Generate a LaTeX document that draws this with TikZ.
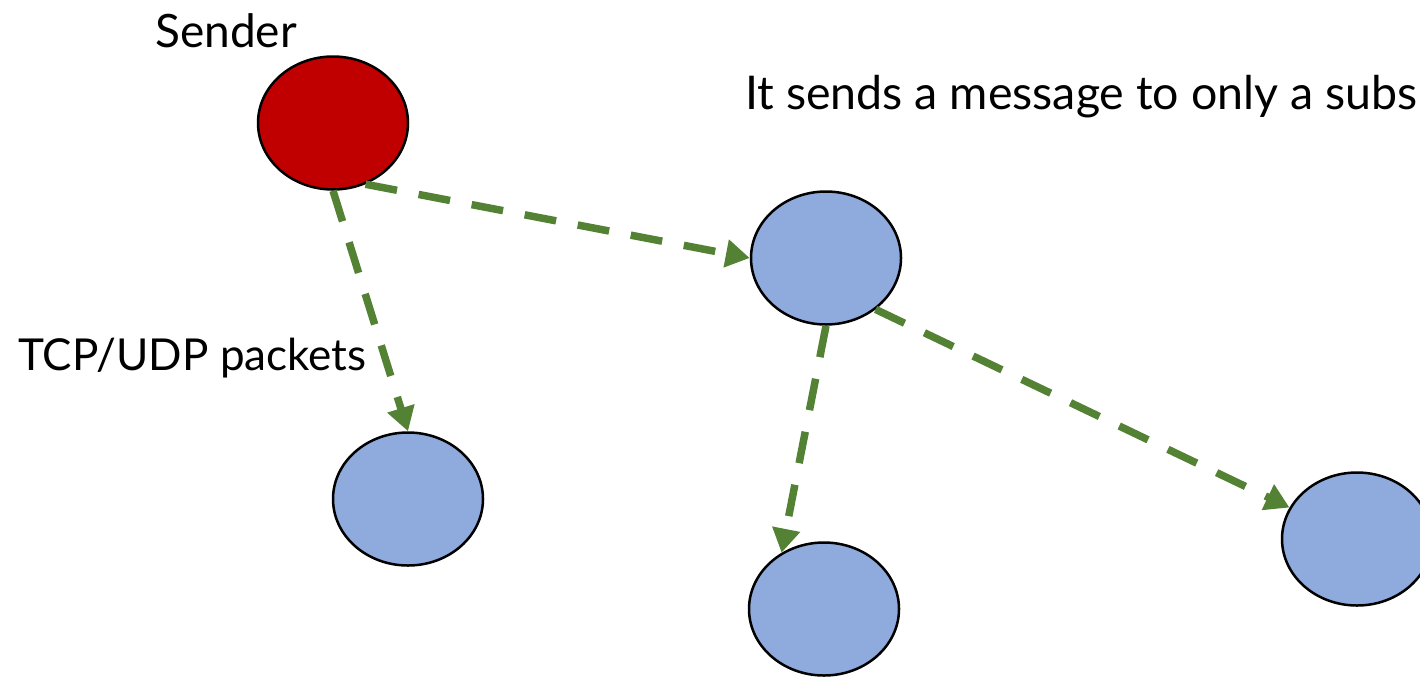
\documentclass[tikz,border=0pt]{standalone}
\usepackage{fontspec}
\setmainfont{Lato}
\usepackage{xcolor}
\usetikzlibrary{shapes.geometric, arrows.meta}

\definecolor{senderred}{RGB}{192,0,0}
\definecolor{peerblue}{RGB}{143,170,220}
\definecolor{pktgreen}{RGB}{84,130,53}

\tikzset{
  peer/.style={ellipse, draw=black, line width=2.5pt, fill=peerblue,
    minimum width=150pt, minimum height=133pt, inner sep=0pt},
  packet/.style={draw=pktgreen, line width=7.5pt, dash pattern=on 32pt off 22pt,
    -{Triangle[length=24pt, width=27pt]}},
  caption/.style={inner sep=0pt, font=\fontsize{46}{50}\selectfont}
}

\begin{document}
\begin{tikzpicture}[x=1pt, y=-1pt]
    % Rahmen
    \useasboundingbox (0,0) rectangle (1420,678);
    \clip (0,0) rectangle (1420,678);

    % Knoten
    \node[peer, fill=senderred] (sender) at (333,123) {};
    \node[peer] (hop) at (826,258) {};
    \node[peer] (leafL) at (408,499) {};
    \node[peer] (leafM) at (824,609) {};
    \node[peer] (leafR) at (1357,539) {};

    % Beschriftungen
    \node[caption, anchor=base west] (sendlbl) at (155,47) {Sender};
    \node[caption, anchor=base west, font=\fontsize{44}{48}\selectfont] (pktlbl) at (18,370) {TCP/UDP packets};
    \node[caption, anchor=base west, font=\fontsize{46.5}{50}\selectfont] (msglbl) at (745,109) {It sends a message to only a subs};

    % Pakete
    \draw[packet] (sender.-62) -- (hop.west);
    \draw[packet] (sender.south) -- (leafL.north);
    \draw[packet] (hop.south) -- (leafM.127);
    \draw[packet] (hop.-46) -- (leafR.155);
\end{tikzpicture}
\end{document}
